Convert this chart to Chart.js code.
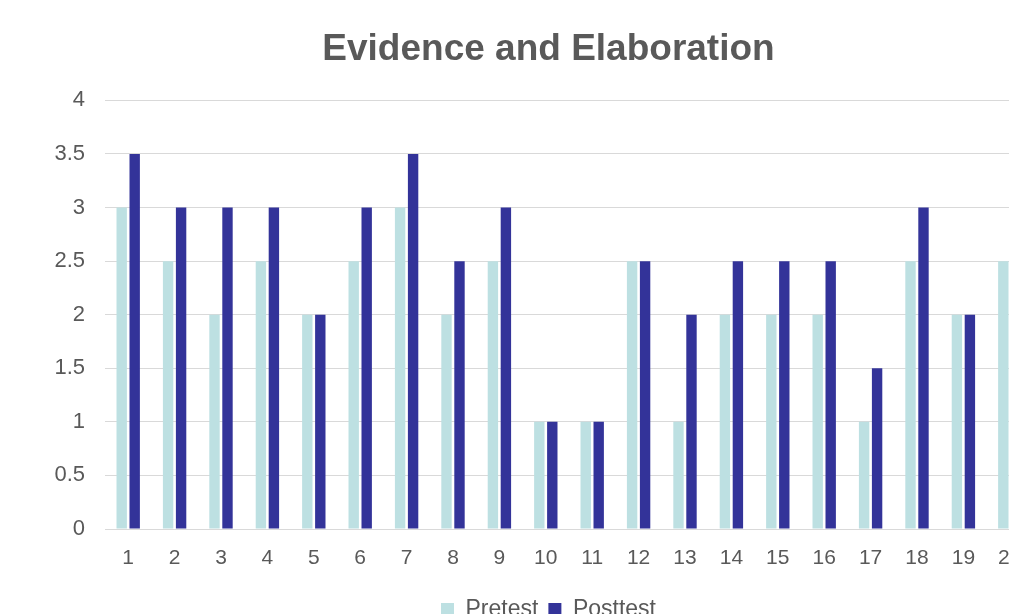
<!DOCTYPE html>
<html><head><meta charset="utf-8">
<script src="https://cdn.jsdelivr.net/npm/chart.js@4"></script>
<style>
html,body{margin:0;padding:0;overflow:hidden;background:#fff;}
#wrap{width:1009px;height:614px;overflow:hidden;position:relative;}
#box{width:1097px;height:636px;position:absolute;left:0;top:0;}
</style></head><body>
<div id="wrap"><div id="box"><canvas id="c"></canvas></div></div>
<script>
const categories = ["1","2","3","4","5","6","7","8","9","10","11","12","13","14","15","16","17","18","19","20"];
const pretest  = [3,2.5,2,2.5,2,2.5,3,2,2.5,1,1,2.5,1,2,2,2,1,2.5,2,2.5];
const posttest = [3.5,3,3,3,2,3,3.5,2.5,3,1,1,2.5,2,2.5,2.5,2.5,1.5,3,2,3];
const yTicks = [0,0.5,1,1.5,2,2.5,3,3.5,4];

const grey = '#595959';
const fam = 'Liberation Sans, Arial, sans-serif';
new Chart(document.getElementById('c'), {
  type: 'bar',
  data: {
    labels: categories,
    datasets: [
      {label:'Pretest', data: pretest, backgroundColor:'#bde0e2', barPercentage:0.8, categoryPercentage:0.56},
      {label:'Posttest', data: posttest, backgroundColor:'#333399', barPercentage:0.8, categoryPercentage:0.56}
    ]
  },
  options: {
    responsive:true, maintainAspectRatio:false, animation:false,
    layout:{padding:{left:0,right:0,top:0,bottom:5}},
    plugins:{
      title:{display:true, text:'Evidence and Elaboration', color:grey,
        font:{family:fam, size:37, weight:'bold'},
        padding:{top:28,bottom:28}},
      legend:{position:'bottom',
        labels:{color:grey, boxWidth:13, boxHeight:13, padding:10,
          font:{family:fam, size:23}}},
      tooltip:{enabled:false}
    },
    scales:{
      x:{grid:{display:false, drawTicks:false}, border:{display:true,color:'#d9d9d9'},
        ticks:{color:grey, padding:17, maxRotation:0, autoSkip:false,
          font:{family:fam, size:21}},
        afterFit:(s)=>{s.height=59;}},
      y:{min:0,max:4, afterBuildTicks:(s)=>{s.ticks=yTicks.map(v=>({value:v}));},
        grid:{color:'#d9d9d9', drawTicks:false, lineWidth:1}, border:{display:false},
        ticks:{color:grey, padding:20, callback:(v)=>String(v),
          font:{family:fam, size:22}},
        afterFit:(s)=>{s.width=105;}},
      y2:{position:'right', min:0, max:4, display:true,
        grid:{display:false, drawTicks:false}, border:{display:false},
        ticks:{display:false},
        afterFit:(s)=>{s.width=64;}}
    }
  }
});
</script></body></html>
